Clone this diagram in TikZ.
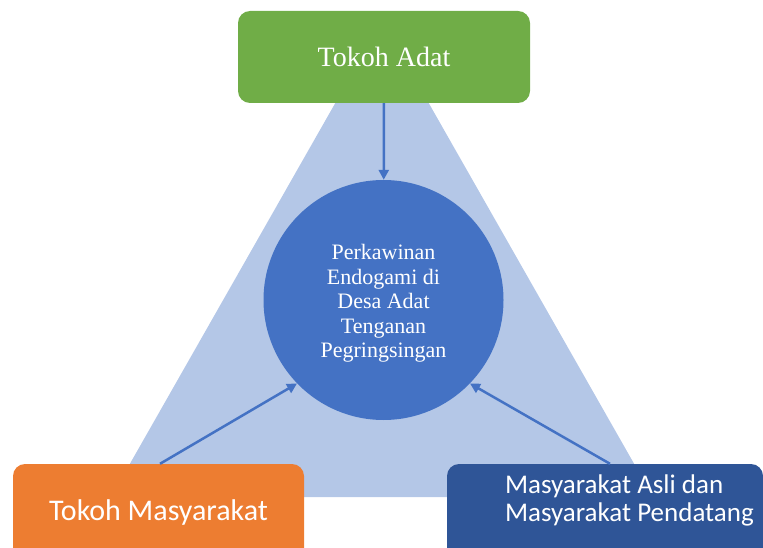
\documentclass[tikz,border=0pt]{standalone}
\usepackage{fontspec}
\setmainfont{Liberation Serif}
\newfontfamily\calibri{Carlito}
\usetikzlibrary{arrows.meta, positioning}

\definecolor{adatgreen}{HTML}{70AD47}
\definecolor{masorange}{HTML}{ED7D31}
\definecolor{circleblue}{HTML}{4472C4}
\definecolor{navyblue}{HTML}{2F5597}
\definecolor{paleblue}{HTML}{B4C7E7}

\begin{document}
\begin{tikzpicture}[x=1pt, y=-1pt,
    rbox/.style={rounded corners=12pt, text=white, inner sep=0pt},
    link/.style={draw=circleblue, line width=2.5pt, -{Triangle[length=10pt, width=10pt]}}]
    \useasboundingbox (0,0) rectangle (763,548);
    \clip (0,0) rectangle (763,548);

    % Background triangle
    \fill[paleblue] (111,497) -- (653,497) -- (382,21) -- cycle;

    % Top box
    \node[rbox, fill=adatgreen, minimum width=292pt, minimum height=92pt,
          font=\fontsize{28}{30}\selectfont] (adat) at (384,57) {Tokoh Adat};

    % Centre circle
    \node[circle, fill=circleblue, minimum size=240pt, text=white, align=center,
          font=\fontsize{22}{24.5}\selectfont] (endogami) at (383.5,300)
          {\\[-2pt]Perkawinan\\Endogami di\\Desa Adat\\Tenganan\\Pegringsingan};

    % Bottom boxes
    \node[rbox, fill=masorange, minimum width=291pt, minimum height=96pt,
          font=\calibri\fontsize{30}{32}\selectfont] (masyarakat) at (158.5,512) {Tokoh Masyarakat};
    \node[rbox, fill=navyblue, minimum width=316pt, minimum height=96pt] (pendatang) at (605,512) {};
    \node[anchor=west, text=white, align=left, inner sep=0pt,
          font=\calibri\fontsize{27}{28}\selectfont] (pendatangtext)
          at ([xshift=58pt, yshift=12pt]pendatang.west) {Masyarakat Asli dan\\Masyarakat Pendatang};

    % Arrows
    \draw[link] (adat) -- (endogami);
    \draw[link] ([xshift=1.5pt]masyarakat.north) -- (endogami.224);
    \draw[link] ([xshift=5pt]pendatang.north) -- (endogami.316);
\end{tikzpicture}
\end{document}
